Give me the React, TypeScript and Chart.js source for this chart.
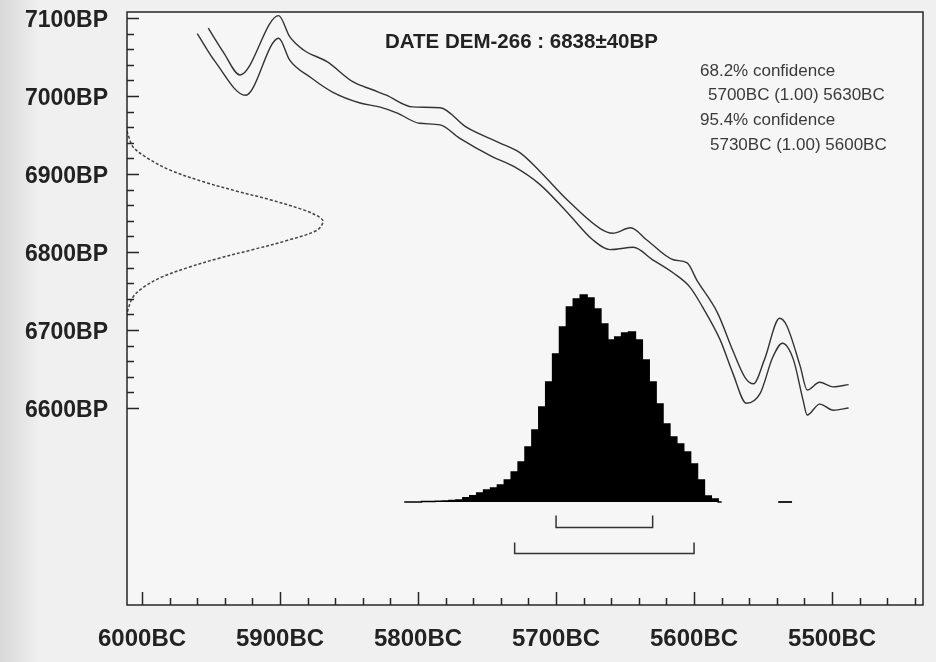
import React, { useEffect, useRef } from 'react';
import { Chart, registerables } from 'chart.js';

Chart.register(...registerables);

// Calibration curve, upper band (cal BC, BP)
const calUpperBC = [5952, 5941, 5929, 5901, 5893, 5883, 5866, 5847, 5833, 5823, 5804, 5784, 5765, 5741, 5726, 5712, 5692, 5668, 5659, 5646, 5634, 5615, 5605, 5598, 5583, 5572, 5563, 5557, 5549, 5538, 5533, 5523, 5518, 5509, 5499, 5488];
const calUpperBP = [7087, 7056, 7027, 7103, 7076, 7059, 7044, 7018, 7008, 7001, 6986, 6985, 6960, 6940, 6927, 6904, 6867, 6830, 6824, 6831, 6815, 6790, 6786, 6764, 6722, 6674, 6639, 6631, 6662, 6715, 6706, 6653, 6623, 6633, 6627, 6630];

// Calibration curve, lower band
const calLowerBC = [5960, 5947, 5925, 5901, 5893, 5878, 5862, 5842, 5828, 5815, 5799, 5784, 5770, 5746, 5731, 5712, 5692, 5673, 5661, 5644, 5630, 5615, 5603, 5594, 5581, 5572, 5562, 5552, 5543, 5536, 5528, 5521, 5518, 5509, 5499, 5488];
const calLowerBP = [7080, 7044, 7001, 7074, 7046, 7024, 7005, 6991, 6986, 6978, 6965, 6963, 6946, 6922, 6910, 6887, 6851, 6815, 6803, 6806, 6790, 6773, 6755, 6730, 6687, 6645, 6606, 6619, 6665, 6683, 6662, 6610, 6591, 6605, 6597, 6600];

// Radiocarbon measurement distribution (BP vs relative probability)
const gaussBP = [6955, 6947, 6935, 6921, 6905, 6890, 6878, 6867, 6854, 6845, 6839, 6828, 6815, 6803, 6792, 6780, 6767, 6754, 6742, 6726, 6718];
const gaussProb = [0, 0.01, 0.03, 0.1, 0.22, 0.39, 0.56, 0.73, 0.9, 0.98, 1.0, 0.97, 0.82, 0.64, 0.47, 0.31, 0.17, 0.08, 0.03, 0.005, 0];

// Calibrated probability histogram (cal BC, relative probability)
const histBC = [5810, 5805, 5800, 5795, 5790, 5785, 5780, 5775, 5770, 5765, 5760, 5755, 5750, 5745, 5740, 5735, 5730, 5725, 5720, 5715, 5710, 5705, 5700, 5695, 5690, 5685, 5680, 5675, 5670, 5665, 5660, 5655, 5650, 5645, 5640, 5635, 5630, 5625, 5620, 5615, 5610, 5605, 5600, 5595, 5590, 5585, 5580];
const histProb = [0, 0, 0, 0.002, 0.002, 0.004, 0.005, 0.007, 0.01, 0.02, 0.03, 0.043, 0.058, 0.068, 0.082, 0.106, 0.145, 0.193, 0.266, 0.348, 0.459, 0.58, 0.715, 0.845, 0.942, 0.981, 1.0, 0.986, 0.932, 0.86, 0.783, 0.797, 0.816, 0.821, 0.783, 0.686, 0.58, 0.473, 0.377, 0.314, 0.28, 0.242, 0.184, 0.106, 0.029, 0.014, 0];

// Small isolated probability segment
const tinyBC = [5539, 5529];

// Confidence ranges
const range68 = [5700, 5630];
const range95 = [5730, 5600];

// Axis labels
const xLabelYears = [6000, 5900, 5800, 5700, 5600, 5500];
const yLabelBP = [7100, 7000, 6900, 6800, 6700, 6600];

const titleText = 'DATE DEM-266 : 6838±40BP';
const confLines = ['68.2% confidence', '5700BC (1.00) 5630BC', '95.4% confidence', '5730BC (1.00) 5600BC'];

const FONT = '"Liberation Sans", Arial, sans-serif';

const decorPlugin = {
  id: 'decor',
  beforeDraw(chart: any) {
    const { ctx, chartArea: a, width, height } = chart;
    ctx.save();
    const g = ctx.createLinearGradient(0, 0, 40, 0);
    g.addColorStop(0, '#d8d8d8');
    g.addColorStop(1, '#f0f0f0');
    ctx.fillStyle = g;
    ctx.fillRect(0, 0, width, height);
    ctx.fillStyle = '#f6f6f6';
    ctx.fillRect(a.left, a.top, a.right - a.left, a.bottom - a.top);
    ctx.restore();
  },
  afterDatasetsDraw(chart: any) {
    const { ctx, chartArea: a, scales } = chart;
    const xs = scales.x;
    const ys = scales.y;
    const yp = scales.yp;
    ctx.save();
    // frame
    ctx.strokeStyle = '#262626';
    ctx.lineWidth = 1.5;
    ctx.strokeRect(a.left, a.top, a.right - a.left, a.bottom - a.top);
    // x ticks (inward)
    for (let v = 6000; v >= 5440; v -= 20) {
      const px = Math.round(xs.getPixelForValue(v)) + 0.5;
      const len = v % 100 === 0 ? 13 : 7;
      ctx.beginPath();
      ctx.moveTo(px, a.bottom);
      ctx.lineTo(px, a.bottom - len);
      ctx.stroke();
    }
    // y ticks (inward)
    for (let v = 6600; v <= 7100; v += 20) {
      const py = Math.round(ys.getPixelForValue(v)) + 0.5;
      const len = v % 100 === 0 ? 12 : 7;
      ctx.beginPath();
      ctx.moveTo(a.left, py);
      ctx.lineTo(a.left + len, py);
      ctx.stroke();
    }
    // confidence brackets below histogram baseline
    const base = yp.getPixelForValue(0);
    const drawBracket = (r: number[], off: number, up: number) => {
      const x1 = xs.getPixelForValue(r[0]);
      const x2 = xs.getPixelForValue(r[1]);
      const yy = Math.round(base + off) + 0.5;
      ctx.beginPath();
      ctx.moveTo(x1, yy - up);
      ctx.lineTo(x1, yy);
      ctx.lineTo(x2, yy);
      ctx.lineTo(x2, yy - up);
      ctx.stroke();
    };
    ctx.strokeStyle = '#333';
    ctx.lineWidth = 1.5;
    drawBracket(range68, 25, 12);
    drawBracket(range95, 51, 11);
    // title
    ctx.fillStyle = '#222';
    ctx.font = `bold 20.5px ${FONT}`;
    ctx.textBaseline = 'alphabetic';
    ctx.textAlign = 'left';
    ctx.fillText(titleText, 385, 48);
    // confidence text
    ctx.fillStyle = '#3a3a3a';
    ctx.font = `17px ${FONT}`;
    const xsPos = [700, 708, 700, 710];
    const ysPos = [76, 100, 125, 150];
    confLines.forEach((t, i) => ctx.fillText(t, xsPos[i], ysPos[i]));
    ctx.restore();
  },
};

export default function App() {
  const ref = useRef<HTMLCanvasElement>(null);
  useEffect(() => {
    if (!ref.current) return;
    const toPts = (xa: number[], ya: number[]) => xa.map((x, i) => ({ x, y: ya[i] }));
    const chart = new Chart(ref.current, {
      type: 'line',
      data: {
        datasets: [
          {
            data: histBC.map((x, i) => ({ x, y: histProb[i] })),
            xAxisID: 'x',
            yAxisID: 'yp',
            borderColor: '#000',
            backgroundColor: '#000',
            borderWidth: 1.5,
            stepped: 'middle',
            fill: { value: 0 },
            pointRadius: 0,
          },
          {
            data: tinyBC.map((x) => ({ x, y: 0 })),
            xAxisID: 'x',
            yAxisID: 'yp',
            borderColor: '#222',
            borderWidth: 2,
            pointRadius: 0,
            fill: false,
          },
          {
            data: toPts(calUpperBC, calUpperBP),
            xAxisID: 'x',
            yAxisID: 'y',
            borderColor: '#333',
            borderWidth: 1.4,
            cubicInterpolationMode: 'monotone',
            pointRadius: 0,
            fill: false,
          },
          {
            data: toPts(calLowerBC, calLowerBP),
            xAxisID: 'x',
            yAxisID: 'y',
            borderColor: '#333',
            borderWidth: 1.4,
            cubicInterpolationMode: 'monotone',
            pointRadius: 0,
            fill: false,
          },
          {
            data: toPts(gaussProb, gaussBP),
            xAxisID: 'xp',
            yAxisID: 'y',
            borderColor: '#444',
            borderWidth: 1.5,
            borderDash: [3, 2],
            tension: 0.35,
            pointRadius: 0,
            fill: false,
          },
        ],
      },
      options: {
        animation: false,
        responsive: false,
        devicePixelRatio: 1,
        layout: { padding: { top: 12, right: 13, left: 0, bottom: 0 } },
        plugins: { legend: { display: false }, tooltip: { enabled: false }, title: { display: false } },
        scales: {
          x: {
            type: 'linear',
            position: 'bottom',
            reverse: true,
            min: 5434.1,
            max: 6010.9,
            grid: { display: false, drawTicks: false, tickLength: 0 },
            border: { display: false },
            afterBuildTicks: (s: any) => {
              s.ticks = xLabelYears.map((v) => ({ value: v }));
            },
            afterFit: (s: any) => {
              s.height = 57;
              s.paddingLeft = 0;
              s.paddingRight = 0;
            },
            ticks: {
              padding: 20,
              maxRotation: 0,
              autoSkip: false,
              color: '#222',
              font: { family: FONT, size: 24, weight: 'bold' },
              callback: (v: any) => `${v}BC`,
            },
          },
          y: {
            type: 'linear',
            position: 'left',
            min: 6347.4,
            max: 7107.7,
            grid: { display: false, drawTicks: false, tickLength: 0 },
            border: { display: false },
            afterBuildTicks: (s: any) => {
              s.ticks = yLabelBP.map((v) => ({ value: v }));
            },
            afterFit: (s: any) => {
              s.width = 127;
              s.paddingTop = 0;
              s.paddingBottom = 0;
            },
            ticks: {
              padding: 19,
              labelOffset: 3,
              autoSkip: false,
              color: '#222',
              font: { family: FONT, size: 23, weight: 'bold' },
              callback: (v: any) => `${v}BP`,
            },
          },
          xp: { type: 'linear', axis: 'x', display: false, min: 0, max: 4.061 },
          yp: { type: 'linear', axis: 'y', display: false, min: -0.4976, max: 2.367 },
        },
      },
      plugins: [decorPlugin],
    } as any);
    return () => chart.destroy();
  }, []);
  return (
    <div style={{ position: 'absolute', left: 0, top: 0, width: 936, height: 662 }}>
      <canvas ref={ref} width={936} height={662} style={{ display: 'block' }} />
    </div>
  );
}
